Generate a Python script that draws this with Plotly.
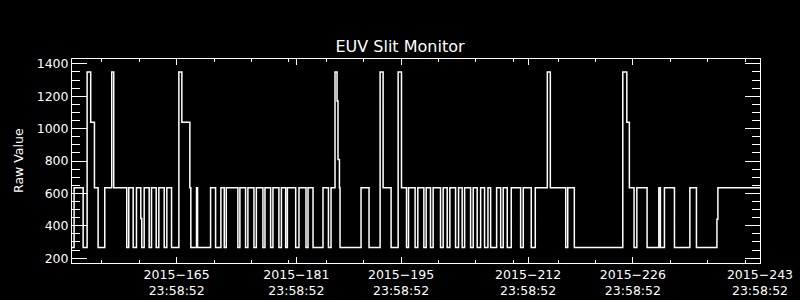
import datetime as dt
import plotly.graph_objects as go

# Step transitions: fractional day-of-year (2015) where the value changes, and the new value
day_of_year = [
    152.00, 152.28, 153.49, 154.02, 154.50, 155.00, 155.49, 156.38, 157.31, 157.58,
    159.32, 159.59, 160.18, 160.62, 161.20, 161.33, 161.65, 162.32, 162.63, 163.26,
    163.61, 164.33, 164.68, 165.31, 166.29, 166.69, 167.76, 167.89, 168.65, 168.79,
    170.53, 171.20, 171.91, 172.36, 172.63, 174.18, 174.45, 175.21, 175.52, 176.33,
    176.65, 177.53, 177.80, 178.56, 178.87, 179.67, 180.00, 180.57, 180.80, 181.91,
    182.35, 183.29, 183.56, 184.23, 185.56, 186.29, 186.64, 187.17, 187.44, 187.57,
    187.76, 187.84, 190.65, 191.72, 193.20, 193.60, 194.67, 195.61, 196.06, 196.73,
    197.00, 197.88, 198.24, 199.05, 199.36, 199.94, 200.29, 201.28, 201.63, 202.17,
    202.53, 203.29, 203.69, 204.17, 204.50, 205.30, 205.65, 206.18, 206.64, 207.17,
    207.62, 207.98, 208.78, 209.32, 209.66, 210.20, 210.74, 211.99, 212.34, 213.41,
    213.95, 215.56, 215.96, 218.02, 218.29, 219.17, 225.65, 226.19, 226.53, 227.16,
    227.53, 228.90, 230.47, 230.68, 231.22, 232.56, 234.62, 235.50, 238.24, 238.37,
    243.999,
]
raw_value = [
    265, 635, 265, 1350, 1040, 635, 265, 635, 1350, 635,
    265, 635, 265, 635, 445, 265, 635, 265, 635, 265,
    635, 265, 635, 265, 1350, 1040, 635, 265, 635, 265,
    635, 265, 635, 265, 635, 265, 635, 265, 635, 265,
    635, 265, 635, 265, 635, 265, 635, 265, 635, 265,
    635, 265, 635, 265, 635, 265, 635, 1350, 1170, 810,
    635, 265, 635, 265, 1350, 635, 265, 1350, 635, 265,
    635, 265, 635, 265, 635, 265, 635, 265, 635, 265,
    635, 265, 635, 265, 635, 265, 635, 265, 635, 265,
    635, 265, 635, 265, 635, 265, 635, 265, 635, 265,
    635, 1350, 635, 265, 635, 265, 1350, 1040, 635, 265,
    635, 265, 635, 265, 635, 265, 635, 265, 440, 635,
    635,
]
assert len(day_of_year) == len(raw_value)

major_tick_days = [165, 181, 195, 212, 226, 243]
major_tick_labels = ["2015\u2212165<br>23:58:52", "2015\u2212181<br>23:58:52", "2015\u2212195<br>23:58:52",
                     "2015\u2212212<br>23:58:52", "2015\u2212226<br>23:58:52", "2015\u2212243<br>23:58:52"]
minor_tick_dates = ["2015-06-05", "2015-06-10", "2015-06-15", "2015-06-20", "2015-06-25", "2015-06-30",
                    "2015-07-05", "2015-07-10", "2015-07-15", "2015-07-20", "2015-07-25", "2015-07-30",
                    "2015-08-05", "2015-08-10", "2015-08-15", "2015-08-20", "2015-08-25", "2015-08-30"]

base = dt.datetime(2015, 1, 1)
def doy_to_dt(d):
    return base + dt.timedelta(days=d - 1)

times = [doy_to_dt(d) for d in day_of_year]
tick_offset = dt.timedelta(hours=23, minutes=58, seconds=52)
major_ticks = [base + dt.timedelta(days=d - 1) + tick_offset for d in major_tick_days]
x_start = base + dt.timedelta(days=151 - 1) + tick_offset
x_end = base + dt.timedelta(days=243 - 1) + tick_offset

fig = go.Figure()
fig.add_trace(go.Scatter(x=times, y=raw_value, mode="lines", line=dict(color="white", width=1.5, shape="hv"),
                         hoverinfo="skip"))

font_family = "DejaVu Sans"
fig.update_layout(
    width=800, height=300,
    margin=dict(l=72, r=40, t=59, b=37),
    paper_bgcolor="black", plot_bgcolor="black",
    font=dict(family=font_family, color="white", size=12.5),
    showlegend=False,
    title=dict(text="EUV Slit Monitor", xref="container", x=0.5, xanchor="center",
               yref="container", y=1 - 46 / 300, yanchor="middle",
               font=dict(family=font_family, size=16, color="white")),
    xaxis=dict(type="date", range=[x_start, x_end], showgrid=False, zeroline=False, automargin=False,
               showline=True, linecolor="white", linewidth=1, mirror="ticks",
               ticks="inside", ticklen=6, tickcolor="white", tickwidth=1,
               tickmode="array", tickvals=major_ticks, ticktext=major_tick_labels,
               minor=dict(tickmode="array", tickvals=minor_tick_dates, ticks="inside",
                          ticklen=3, tickcolor="white", tickwidth=1, showgrid=False)),
    yaxis=dict(range=[170, 1430], showgrid=False, zeroline=False, automargin=False,
               showline=True, linecolor="white", linewidth=1, mirror="ticks",
               ticks="inside", ticklen=15, tickcolor="white", tickwidth=1,
               tickmode="linear", tick0=200, dtick=200,
               minor=dict(dtick=50, tick0=0, ticks="inside", ticklen=8,
                          tickcolor="white", tickwidth=1, showgrid=False)),
    annotations=[dict(text="Raw Value", textangle=-90, xref="paper", yref="paper",
                      x=(18 - 72) / 688, y=0.5, xanchor="center", yanchor="middle",
                      showarrow=False, font=dict(family=font_family, size=12.5, color="white"))],
)

fig.write_html("out.html")
